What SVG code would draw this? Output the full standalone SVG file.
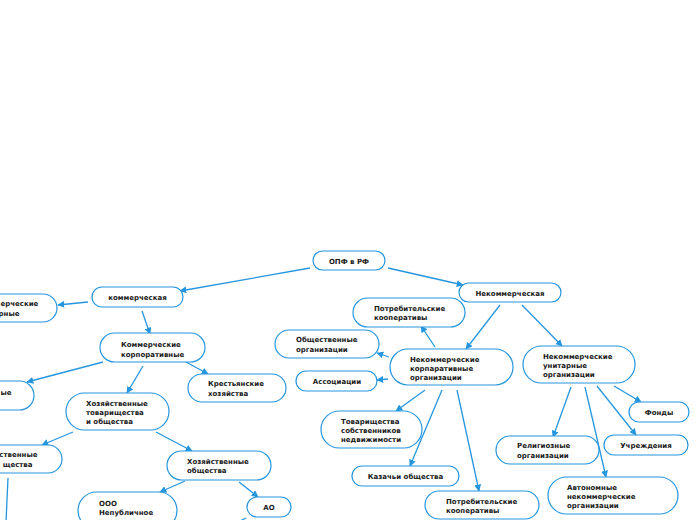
<svg xmlns="http://www.w3.org/2000/svg" width="696" height="520" viewBox="0 0 696 520">
<defs>
<marker id="ah" viewBox="0 0 10 10" refX="9" refY="5" markerWidth="7" markerHeight="7" markerUnits="userSpaceOnUse" orient="auto">
<path d="M0,0 L10,5 L0,10 z" fill="#2596de"/>
</marker>
<style>
.n{fill:#fff;stroke:#2596de;stroke-width:1.2}
.t{font-family:"DejaVu Sans",Verdana,sans-serif;font-size:7px;font-weight:bold;fill:#1a1a1a}
.c{text-anchor:middle}
.r{text-anchor:end}
.e line{stroke:#2596de;stroke-width:1.3;marker-end:url(#ah)}
.e line.p{marker-end:none}
</style>
</defs>
<rect width="696" height="520" fill="#fff"/>
<g class="e" id="connectors">
<line x1="310" y1="268" x2="180" y2="291"/>
<line x1="388" y1="268" x2="463" y2="285"/>
<line x1="88" y1="302" x2="58" y2="305"/>
<line x1="142" y1="311" x2="150" y2="334"/>
<line x1="103" y1="362" x2="27" y2="382"/>
<line x1="143" y1="366" x2="127" y2="393"/>
<line x1="186" y1="362" x2="208" y2="374"/>
<line x1="73" y1="432" x2="42" y2="445"/>
<line x1="156" y1="432" x2="192" y2="451"/>
<line x1="185" y1="481" x2="160" y2="492"/>
<line x1="239" y1="482" x2="258" y2="497"/>
<line class="p" x1="8" y1="478" x2="6" y2="522"/>
<line class="p" x1="246" y1="518" x2="238" y2="522"/>
<line x1="500" y1="305" x2="466" y2="349"/>
<line x1="522" y1="305" x2="562" y2="346"/>
<line x1="435" y1="347" x2="421" y2="326"/>
<line x1="389" y1="357" x2="377" y2="353"/>
<line x1="388" y1="379" x2="377" y2="380"/>
<line x1="425" y1="390" x2="396" y2="411"/>
<line x1="442" y1="390" x2="410" y2="466"/>
<line x1="457" y1="390" x2="479" y2="491"/>
<line x1="571" y1="387" x2="553" y2="437"/>
<line x1="585" y1="387" x2="606" y2="477"/>
<line x1="597" y1="386" x2="636" y2="435"/>
<line x1="614" y1="386" x2="641" y2="402"/>
</g>
<g id="opf"><rect class="n" x="313" y="251" width="72" height="19" rx="9.5"/><text class="t c" x="349" y="263.5">ОПФ в РФ</text></g>
<g id="kom"><rect class="n" x="92" y="287" width="91" height="20" rx="10"/><text class="t c" x="137.5" y="299.5">коммерческая</text></g>
<g id="kom-unit"><rect class="n" x="-44" y="294" width="101" height="28" rx="14"/><text class="t" x="0.5" y="306">ерческие</text><text class="t r" x="19.5" y="315.5">рные</text></g>
<g id="kom-korp"><rect class="n" x="100" y="333" width="105" height="29" rx="14.5"/><text class="t" x="121" y="347">Коммерческие</text><text class="t" x="121" y="357">корпоративные</text></g>
<g id="proizv"><rect class="n" x="-100" y="381" width="134" height="29" rx="14.5"/><text class="t" x="0.5" y="395">ые</text></g>
<g id="krest"><rect class="n" x="188" y="374" width="98" height="28" rx="14"/><text class="t" x="208" y="386">Крестьянские</text><text class="t" x="208" y="395.5">хозяйства</text></g>
<g id="hoz-to"><rect class="n" x="66" y="393" width="103" height="37" rx="18.5"/><text class="t" x="86" y="405.5">Хозяйственные</text><text class="t" x="86" y="414.5">товарищества</text><text class="t" x="86" y="424">и общества</text></g>
<g id="hoz-tov"><rect class="n" x="-46" y="445" width="108" height="28" rx="14"/><text class="t r" x="37.5" y="457">ственные</text><text class="t r" x="32.5" y="466.5">щества</text></g>
<g id="hoz-ob"><rect class="n" x="167" y="451" width="104" height="29" rx="14.5"/><text class="t" x="187" y="463.5">Хозяйственные</text><text class="t" x="187" y="472.5">общества</text></g>
<g id="ooo"><rect class="n" x="78" y="492" width="99" height="37" rx="18.5"/><text class="t" x="99" y="505.5">ООО</text><text class="t" x="99" y="514.5">Непубличное</text></g>
<g id="ao"><rect class="n" x="247" y="497" width="44" height="20" rx="10"/><text class="t c" x="269" y="509.5">АО</text></g>
<g id="nekom"><rect class="n" x="459" y="283" width="102" height="19" rx="9.5"/><text class="t c" x="510" y="295.5">Некоммерческая</text></g>
<g id="potr1"><rect class="n" x="353" y="298" width="112" height="29" rx="14.5"/><text class="t" x="374" y="310.5">Потребительские</text><text class="t" x="374" y="320">кооперативы</text></g>
<g id="obsh"><rect class="n" x="275" y="330" width="104" height="28" rx="14"/><text class="t" x="296" y="342">Общественные</text><text class="t" x="296" y="351.5">организации</text></g>
<g id="assoc"><rect class="n" x="296" y="371" width="81" height="20" rx="10"/><text class="t c" x="337" y="383.5">Ассоциации</text></g>
<g id="nk-korp"><rect class="n" x="390" y="349" width="123" height="36" rx="18"/><text class="t" x="410" y="361.5">Некоммерческие</text><text class="t" x="410" y="370.5">корпаративные</text><text class="t" x="410" y="379.5">организации</text></g>
<g id="nk-unit"><rect class="n" x="523" y="346" width="112" height="37" rx="18.5"/><text class="t" x="543" y="358.5">Некоммерческие</text><text class="t" x="543" y="367.5">унитарные</text><text class="t" x="543" y="376.5">организации</text></g>
<g id="tsn"><rect class="n" x="321" y="411" width="101" height="37" rx="18.5"/><text class="t" x="341" y="423.5">Товарищества</text><text class="t" x="341" y="432.5">собственников</text><text class="t" x="341" y="441.5">недвижимости</text></g>
<g id="kaz"><rect class="n" x="352" y="466" width="107" height="20" rx="10"/><text class="t c" x="405.5" y="478.5">Казачьи общества</text></g>
<g id="potr2"><rect class="n" x="425" y="491" width="114" height="28" rx="14"/><text class="t" x="446" y="503.5">Потребительские</text><text class="t" x="446" y="512.5">кооперативы</text></g>
<g id="fond"><rect class="n" x="629" y="402" width="60" height="20" rx="10"/><text class="t c" x="659" y="414.5">Фонды</text></g>
<g id="relig"><rect class="n" x="496" y="436" width="103" height="28" rx="14"/><text class="t" x="517" y="448">Религиозные</text><text class="t" x="517" y="457.5">организации</text></g>
<g id="uchr"><rect class="n" x="604" y="435" width="84" height="20" rx="10"/><text class="t c" x="646" y="447.5">Учреждения</text></g>
<g id="anko"><rect class="n" x="548" y="477" width="130" height="37" rx="18.5"/><text class="t" x="567" y="489.5">Автономные</text><text class="t" x="567" y="498.5">некоммерческие</text><text class="t" x="567" y="507.5">организации</text></g>
</svg>
